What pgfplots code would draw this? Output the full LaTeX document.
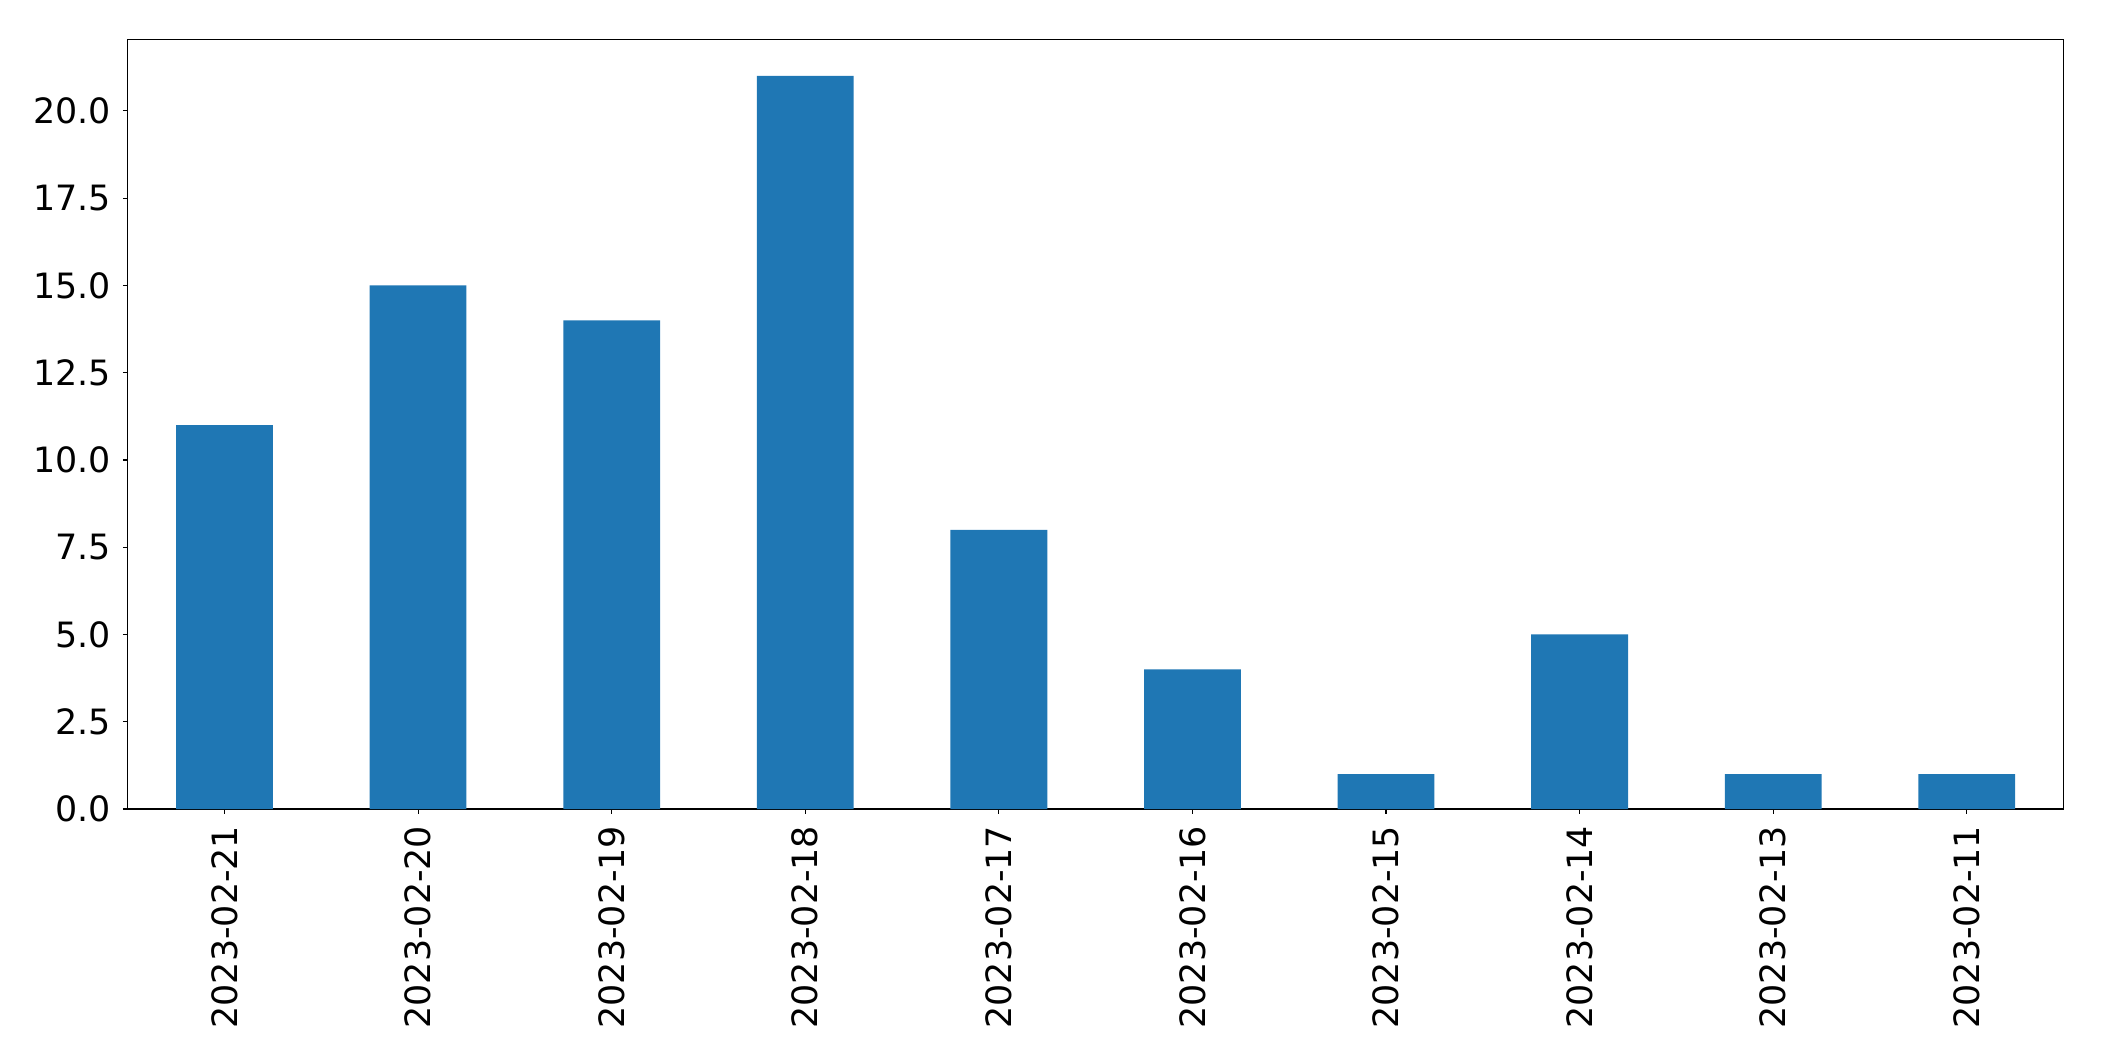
\documentclass[border=0pt]{standalone}
\usepackage{fontspec}
\setmainfont{DejaVu Sans}
\usepackage{pgfplots}
\pgfplotsset{compat=1.18}
\definecolor{c0}{HTML}{1F77B4}
\begin{document}
\fontsize{25.2}{30}\selectfont
\begin{tikzpicture}
\useasboundingbox (-92.3pt,-182.1pt) rectangle (1428.3pt,584.7pt);
\begin{axis}[
  at={(0,0)}, anchor=south west,
  scale only axis, width=1399.1pt, height=556.3pt,
  xmin=-0.5, xmax=9.5, ymin=0, ymax=22.05,
  xtick={0,...,9},
  xticklabels={2023-02-21,2023-02-20,2023-02-19,2023-02-18,2023-02-17,2023-02-16,2023-02-15,2023-02-14,2023-02-13,2023-02-11},
  x tick label style={rotate=90, anchor=east, font=\fontsize{25.2}{30}\selectfont},
  ytick={0,2.5,...,20},
  y tick label style={font=\fontsize{25.2}{30}\selectfont},
  yticklabel style={/pgf/number format/.cd, fixed, fixed zerofill, precision=1, assume math mode=true},
  /pgf/number format/assume math mode=true,
  tick align=outside, tick pos=left,
  major tick length=3.5pt,
  every tick/.style={black, line width=0.8pt},
  axis line style={line width=0.8pt},
  xticklabel shift=0pt, yticklabel shift=0pt,
  ybar, bar width=0.5,
]
\addplot[fill=c0, draw=none] coordinates {
(0,11) (1,15) (2,14) (3,21) (4,8) (5,4) (6,1) (7,5) (8,1) (9,1)
};
\end{axis}
\end{tikzpicture}
\end{document}
